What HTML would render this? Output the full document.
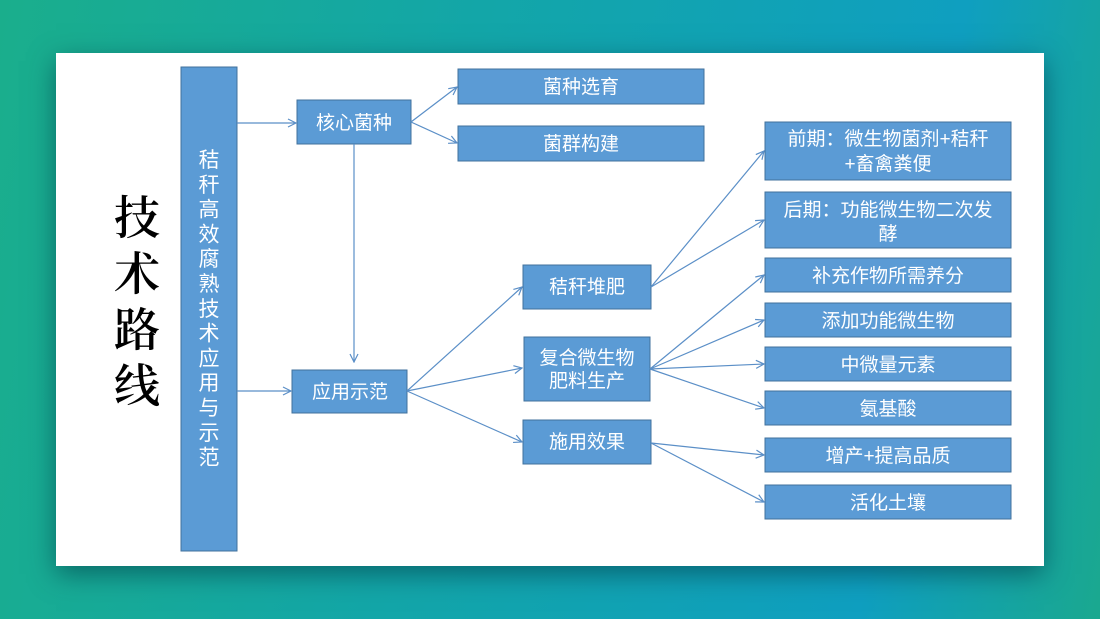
<!DOCTYPE html>
<html><head><meta charset="utf-8"><style>
html,body{margin:0;padding:0}
body{width:1100px;height:619px;overflow:hidden;position:relative;background:linear-gradient(100deg,#1aae8c 0%,#13a6a8 40%,#0f9fc0 80%,#1aa88f 100%);font-family:"Liberation Sans","Noto Sans CJK SC",sans-serif}
.panel{position:absolute;left:56px;top:53px;width:988px;height:513px;background:#fff;box-shadow:0 8px 25px rgba(0,60,70,.6)}
svg{position:absolute;left:0;top:0}
text{font-family:"Liberation Sans","Noto Sans CJK SC",sans-serif;fill:#fff;font-size:19px}
.t{fill:#000;font-size:46px;font-family:'Noto Serif CJK SC',serif;font-weight:600}
</style></head><body>
<div class="panel"></div>
<svg width="1100" height="619" viewBox="0 0 1100 619">
<defs><marker id="a" markerWidth="10" markerHeight="10" refX="9" refY="5" orient="auto" markerUnits="userSpaceOnUse"><path d="M1,1 L9,5 L1,9" fill="none" stroke="#5b8fc7" stroke-width="1.2"/></marker></defs>
<text x="137" y="234" text-anchor="middle" class="t">技</text>
<text x="137" y="290" text-anchor="middle" class="t">术</text>
<text x="137" y="346" text-anchor="middle" class="t">路</text>
<text x="137" y="402" text-anchor="middle" class="t">线</text>
<g fill="#5b9bd5" stroke="#41719c" stroke-width="1">
<rect x="181" y="67" width="56" height="484"/>
<rect x="297" y="100" width="114" height="44"/>
<rect x="458" y="69" width="246" height="35"/>
<rect x="458" y="126" width="246" height="35"/>
<rect x="292" y="370" width="115" height="43"/>
<rect x="523" y="265" width="128" height="44"/>
<rect x="524" y="337" width="126" height="64"/>
<rect x="523" y="420" width="128" height="44"/>
<rect x="765" y="122" width="246" height="58"/>
<rect x="765" y="192" width="246" height="56"/>
<rect x="765" y="258" width="246" height="34"/>
<rect x="765" y="303" width="246" height="34"/>
<rect x="765" y="347" width="246" height="34"/>
<rect x="765" y="391" width="246" height="34"/>
<rect x="765" y="438" width="246" height="34"/>
<rect x="765" y="485" width="246" height="34"/>
</g>
<g stroke="#5b8fc7" stroke-width="1.2" fill="none" marker-end="url(#a)">
<line x1="237" y1="123" x2="296" y2="123"/>
<line x1="237" y1="391" x2="291" y2="391"/>
<line x1="354" y1="144" x2="354" y2="362"/>
<line x1="411" y1="122" x2="457" y2="87"/>
<line x1="411" y1="122" x2="457" y2="143"/>
<line x1="407" y1="391" x2="522" y2="287"/>
<line x1="407" y1="391" x2="522" y2="368"/>
<line x1="407" y1="391" x2="522" y2="442"/>
<line x1="651" y1="287" x2="764" y2="151"/>
<line x1="651" y1="287" x2="764" y2="220"/>
<line x1="650" y1="369" x2="764" y2="275"/>
<line x1="650" y1="369" x2="764" y2="320"/>
<line x1="650" y1="369" x2="764" y2="364"/>
<line x1="650" y1="369" x2="764" y2="408"/>
<line x1="651" y1="443" x2="764" y2="455"/>
<line x1="651" y1="443" x2="764" y2="502"/>
</g>
<g text-anchor="middle">
<text x="209" style="font-size:21px"><tspan x="209" y="167">秸</tspan><tspan x="209" dy="24.8">秆</tspan><tspan x="209" dy="24.8">高</tspan><tspan x="209" dy="24.8">效</tspan><tspan x="209" dy="24.8">腐</tspan><tspan x="209" dy="24.8">熟</tspan><tspan x="209" dy="24.8">技</tspan><tspan x="209" dy="24.8">术</tspan><tspan x="209" dy="24.8">应</tspan><tspan x="209" dy="24.8">用</tspan><tspan x="209" dy="24.8">与</tspan><tspan x="209" dy="24.8">示</tspan><tspan x="209" dy="24.8">范</tspan></text>
<text x="354" y="129">核心菌种</text>
<text x="581" y="93">菌种选育</text>
<text x="581" y="150">菌群构建</text>
<text x="350" y="398">应用示范</text>
<text x="587" y="293">秸秆堆肥</text>
<text x="587" y="364">复合微生物</text>
<text x="587" y="387">肥料生产</text>
<text x="587" y="448">施用效果</text>
<text x="888" y="145">前期：微生物菌剂+秸秆</text>
<text x="888" y="170">+畜禽粪便</text>
<text x="888" y="216">后期：功能微生物二次发</text>
<text x="888" y="240">酵</text>
<text x="888" y="282">补充作物所需养分</text>
<text x="888" y="327">添加功能微生物</text>
<text x="888" y="371">中微量元素</text>
<text x="888" y="415">氨基酸</text>
<text x="888" y="462">增产+提高品质</text>
<text x="888" y="509">活化土壤</text>
</g>
</svg>
</body></html>
